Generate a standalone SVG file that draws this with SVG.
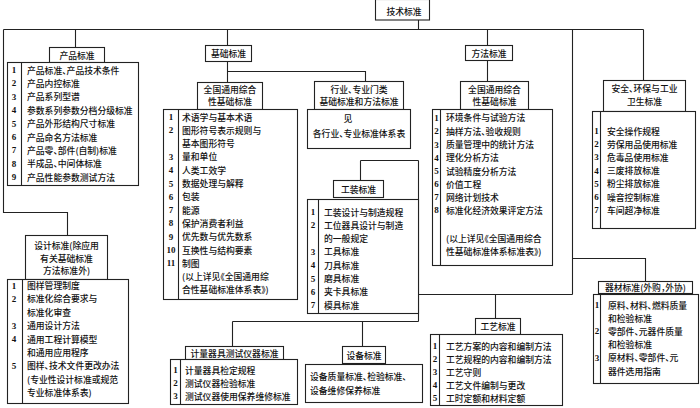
<svg xmlns="http://www.w3.org/2000/svg" width="700" height="408" viewBox="0 0 700 408">
<style>
.b{fill:#fff;stroke:#222;stroke-width:1.1}
.l{fill:none;stroke:#222;stroke-width:1.1}
.t{font-family:"Noto Sans CJK SC","Noto Sans CJK TC",sans-serif;font-size:8.8px;font-weight:500;fill:#111;dominant-baseline:central;font-feature-settings:"halt"}
.c{text-anchor:middle}
.n{font-family:"Liberation Serif",serif;font-size:9px;font-weight:bold;fill:#111;text-anchor:middle;dominant-baseline:central}
</style>
<rect x="0" y="0" width="700" height="408" fill="#fff"/>
<g id="connectors">
<path class="l" d="M418.5 20V29.5M3.5 29.5H643.5M75.5 29.5V47.5M227.5 29.5V45.5M487.5 29.5V45.5M643.5 29.5V80.5M572.5 29.5V294.5M3.5 29.5V212.5H67.5V235.5M227.5 61.5V82.5M227.5 71.5H365.5V81.5M487.5 60.5V81.5M572.5 258.5H645.5V281.5M418.5 294.5H572.5M495.5 294.5V318.5M418.5 160.5V321.5M360.5 160.5H418.5M360.5 160.5V180.5M232.5 321.5H418.5M232.5 321.5V346.5M362.5 321.5V346.5"/>
</g>
<g id="n-root">
<rect class="b" x="375.5" y="-0.5" width="54" height="20.5"/>
<text class="t c" x="404" y="11">技术标准</text>
</g>
<g id="n-product">
<rect class="b" x="49.5" y="47.5" width="55" height="15"/>
<text class="t c" x="77" y="55">产品标准</text>
<rect class="b" x="7.5" y="62.5" width="131" height="123"/>
<path class="l" d="M21.5 62.5V185.5"/>
<text class="n" x="14" y="70">1</text><text class="t" x="27" y="70">产品标准、产品技术条件</text>
<text class="n" x="14" y="83.4">2</text><text class="t" x="27" y="83.4">产品内控标准</text>
<text class="n" x="14" y="96.8">3</text><text class="t" x="27" y="96.8">产品系列型谱</text>
<text class="n" x="14" y="110.2">4</text><text class="t" x="27" y="110.2">参数系列参数分档分级标准</text>
<text class="n" x="14" y="123.6">5</text><text class="t" x="27" y="123.6">产品外形结构尺寸标准</text>
<text class="n" x="14" y="137">6</text><text class="t" x="27" y="137">产品命名方法标准</text>
<text class="n" x="14" y="150.4">7</text><text class="t" x="27" y="150.4">产品零、部件(自制)标准</text>
<text class="n" x="14" y="163.8">8</text><text class="t" x="27" y="163.8">半成品、中间体标准</text>
<text class="n" x="14" y="177.2">9</text><text class="t" x="27" y="177.2">产品性能参数测试方法</text>
</g>
<g id="n-basic">
<rect class="b" x="205.5" y="45.5" width="46" height="16"/>
<text class="t c" x="228.5" y="53.5">基础标准</text>
<rect class="b" x="197.5" y="82.5" width="65" height="27"/>
<text class="t c" x="230" y="89">全国通用综合</text>
<text class="t c" x="230" y="101.5">性基础标准</text>
<rect class="b" x="163.5" y="109.5" width="134" height="190"/>
<path class="l" d="M178.5 109.5V299.5"/>
<text class="n" x="171" y="117">1</text><text class="t" x="182" y="117">术语学与基本术语</text>
<text class="n" x="171" y="130.3">2</text><text class="t" x="182" y="130.3">图形符号表示规则与</text>
<text class="t" x="182" y="143.6">基本图形符号</text>
<text class="n" x="171" y="156.9">3</text><text class="t" x="182" y="156.9">量和单位</text>
<text class="n" x="171" y="170.2">4</text><text class="t" x="182" y="170.2">人类工效学</text>
<text class="n" x="171" y="183.5">5</text><text class="t" x="182" y="183.5">数据处理与解释</text>
<text class="n" x="171" y="196.8">6</text><text class="t" x="182" y="196.8">包装</text>
<text class="n" x="171" y="210.1">7</text><text class="t" x="182" y="210.1">能源</text>
<text class="n" x="171" y="223.4">8</text><text class="t" x="182" y="223.4">保护消费者利益</text>
<text class="n" x="171" y="236.7">9</text><text class="t" x="182" y="236.7">优先数与优先数系</text>
<text class="n" x="171" y="250">10</text><text class="t" x="182" y="250">互换性与结构要素</text>
<text class="n" x="171" y="263.3">11</text><text class="t" x="182" y="263.3">制图</text>
<text class="t" x="182" y="276.6">(以上详见《全国通用综</text>
<text class="t" x="182" y="289.9">合性基础标准体系表》)</text>
</g>
<g id="n-industry">
<rect class="b" x="314.5" y="81.5" width="89" height="28"/>
<text class="t c" x="359" y="89">行业、专业门类</text>
<text class="t c" x="359" y="101.5">基础标准和方法标准</text>
<rect class="b" x="307.5" y="109.5" width="103" height="39"/>
<text class="t c" x="348" y="118">见</text>
<text class="t c" x="359" y="133">各行业、专业标准体系表</text>
</g>
<g id="n-method">
<rect class="b" x="465.5" y="45.5" width="47" height="15"/>
<text class="t c" x="489" y="53">方法标准</text>
<rect class="b" x="460.5" y="81.5" width="68" height="28"/>
<text class="t c" x="494.5" y="89">全国通用综合</text>
<text class="t c" x="494.5" y="101.5">性基础标准</text>
<rect class="b" x="432.5" y="109.5" width="120" height="156"/>
<path class="l" d="M440.5 109.5V265.5"/>
<text class="n" x="436.5" y="117.5">1</text><text class="t" x="446" y="117.5">环境条件与试验方法</text>
<text class="n" x="436.5" y="131">2</text><text class="t" x="446" y="131">抽样方法、验收规则</text>
<text class="n" x="436.5" y="144.5">3</text><text class="t" x="446" y="144.5">质量管理中的统计方法</text>
<text class="n" x="436.5" y="157.8">4</text><text class="t" x="446" y="157.8">理化分析方法</text>
<text class="n" x="436.5" y="171">5</text><text class="t" x="446" y="171">试验精度分析方法</text>
<text class="n" x="436.5" y="184">6</text><text class="t" x="446" y="184">价值工程</text>
<text class="n" x="436.5" y="197">7</text><text class="t" x="446" y="197">网络计划技术</text>
<text class="n" x="436.5" y="210.2">8</text><text class="t" x="446" y="210.2">标准化经济效果评定方法</text>
<text class="t" x="446" y="238">(以上详见《全国通用综合</text>
<text class="t" x="446" y="251.5">性基础标准体系标准表》)</text>
</g>
<g id="n-safety">
<rect class="b" x="603.5" y="80.5" width="82" height="31"/>
<text class="t c" x="644.5" y="88.5">安全、环保与工业</text>
<text class="t c" x="644.5" y="101.5">卫生标准</text>
<rect class="b" x="592.5" y="111.5" width="103" height="117"/>
<path class="l" d="M600.5 111.5V228.5"/>
<text class="n" x="596.5" y="131">1</text><text class="t" x="607" y="131">安全操作规程</text>
<text class="n" x="596.5" y="144.2">2</text><text class="t" x="607" y="144.2">劳保用品使用标准</text>
<text class="n" x="596.5" y="157.4">3</text><text class="t" x="607" y="157.4">危毒品使用标准</text>
<text class="n" x="596.5" y="170.6">4</text><text class="t" x="607" y="170.6">三废排放标准</text>
<text class="n" x="596.5" y="183.8">5</text><text class="t" x="607" y="183.8">粉尘排放标准</text>
<text class="n" x="596.5" y="197">6</text><text class="t" x="607" y="197">噪音控制标准</text>
<text class="n" x="596.5" y="210.2">7</text><text class="t" x="607" y="210.2">车间超净标准</text>
</g>
<g id="n-design">
<rect class="b" x="25.5" y="235.5" width="82" height="44"/>
<text class="t c" x="66.5" y="245">设计标准(除应用</text>
<text class="t c" x="66.5" y="258">有关基础标准</text>
<text class="t c" x="66.5" y="270.5">方法标准外)</text>
<rect class="b" x="7.5" y="279.5" width="121" height="124"/>
<path class="l" d="M22.5 279.5V403.5"/>
<text class="n" x="14" y="285.5">1</text><text class="t" x="27" y="285.5">图样管理制度</text>
<text class="n" x="14" y="298.9">2</text><text class="t" x="27" y="298.9">标准化综合要求与</text>
<text class="t" x="27" y="312.3">标准化审查</text>
<text class="n" x="14" y="325.7">3</text><text class="t" x="27" y="325.7">通用设计方法</text>
<text class="n" x="14" y="339.1">4</text><text class="t" x="27" y="339.1">通用工程计算模型</text>
<text class="t" x="27" y="352.5">和通用应用程序</text>
<text class="n" x="14" y="365.9">5</text><text class="t" x="27" y="365.9">图样、技术文件更改办法</text>
<text class="t" x="27" y="379.3">(专业性设计标准或规范</text>
<text class="t" x="27" y="392.7">专业标准体系表)</text>
</g>
<g id="n-tooling">
<rect class="b" x="333.5" y="180.5" width="50" height="17"/>
<text class="t c" x="358.5" y="189">工装标准</text>
<rect class="b" x="307.5" y="199.5" width="111" height="114"/>
<path class="l" d="M318.5 199.5V313.5"/>
<text class="n" x="313" y="212">1</text><text class="t" x="324" y="212">工装设计与制造规程</text>
<text class="n" x="313" y="225.3">2</text><text class="t" x="324" y="225.3">工位器具设计与制造</text>
<text class="t" x="324" y="238.6">的一般规定</text>
<text class="n" x="313" y="251.9">3</text><text class="t" x="324" y="251.9">工具标准</text>
<text class="n" x="313" y="265.2">4</text><text class="t" x="324" y="265.2">刀具标准</text>
<text class="n" x="313" y="278.5">5</text><text class="t" x="324" y="278.5">磨具标准</text>
<text class="n" x="313" y="291.8">6</text><text class="t" x="324" y="291.8">夹卡具标准</text>
<text class="n" x="313" y="305.1">7</text><text class="t" x="324" y="305.1">模具标准</text>
</g>
<g id="n-metrology">
<rect class="b" x="185.5" y="346.5" width="98" height="13"/>
<text class="t c" x="234.5" y="353">计量器具测试仪器标准</text>
<rect class="b" x="170.5" y="359.5" width="127" height="45"/>
<path class="l" d="M180.5 359.5V404.5"/>
<text class="n" x="175.5" y="370">1</text><text class="t" x="185" y="370">计量器具检定规程</text>
<text class="n" x="175.5" y="383">2</text><text class="t" x="185" y="383">测试仪器检验标准</text>
<text class="n" x="175.5" y="396">3</text><text class="t" x="185" y="396">测试仪器使用保养维修标准</text>
</g>
<g id="n-equipment">
<rect class="b" x="342.5" y="346.5" width="43" height="17"/>
<text class="t c" x="364" y="355">设备标准</text>
<rect class="b" x="305.5" y="364.5" width="117" height="38"/>
<text class="t" x="310" y="376.5">设备质量标准、检验标准、</text>
<text class="t" x="310" y="390">设备维修保养标准</text>
</g>
<g id="n-process">
<rect class="b" x="475.5" y="318.5" width="45" height="16"/>
<text class="t c" x="498" y="326.5">工艺标准</text>
<rect class="b" x="430.5" y="334.5" width="132" height="71"/>
<path class="l" d="M439.5 334.5V405.5"/>
<text class="n" x="435" y="346">1</text><text class="t" x="446" y="346">工艺方案的内容和编制方法</text>
<text class="n" x="435" y="359">2</text><text class="t" x="446" y="359">工艺规程的内容和编制方法</text>
<text class="n" x="435" y="372">3</text><text class="t" x="446" y="372">工艺守则</text>
<text class="n" x="435" y="385">4</text><text class="t" x="446" y="385">工艺文件编制与更改</text>
<text class="n" x="435" y="398">5</text><text class="t" x="446" y="398">工时定额和材料定额</text>
</g>
<g id="n-material">
<rect class="b" x="598.5" y="281.5" width="94" height="12"/>
<text class="t c" x="645.5" y="287.5">器材标准(外购，外协)</text>
<rect class="b" x="593.5" y="294.5" width="105" height="89"/>
<path class="l" d="M600.5 294.5V383.5"/>
<text class="n" x="597" y="305">1</text><text class="t" x="608" y="305">原料、材料、燃料质量</text>
<text class="t" x="608" y="318.2">和检验标准</text>
<text class="n" x="597" y="331.4">2</text><text class="t" x="608" y="331.4">零部件、元器件质量</text>
<text class="t" x="608" y="344.6">和检验标准</text>
<text class="n" x="597" y="357.8">3</text><text class="t" x="608" y="357.8">原材料、零部件、元</text>
<text class="t" x="608" y="371">器件选用指南</text>
</g>
</svg>
